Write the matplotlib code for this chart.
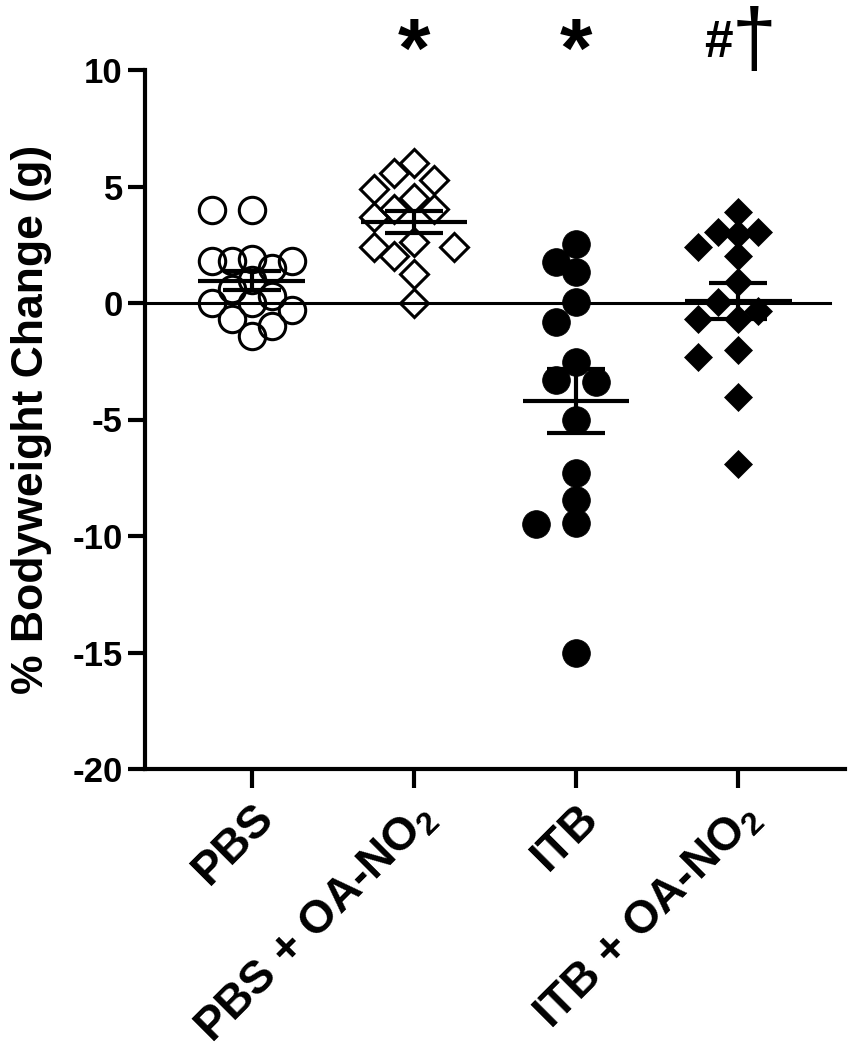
import numpy as np
import matplotlib
matplotlib.use('Agg')
import matplotlib.pyplot as plt

plt.rcParams['font.family'] = ['Liberation Sans', 'DejaVu Sans']
plt.rcParams['font.weight'] = 'bold'
plt.rcParams['mathtext.fontset'] = 'custom'
plt.rcParams['mathtext.rm'] = 'Liberation Sans'
plt.rcParams['mathtext.default'] = 'regular'

# ---- data ----
categories = ['PBS', 'PBS + OA-NO$_2$', 'ITB', 'ITB + OA-NO$_2$']
pbs = [4.0, 4.0, 1.8, 1.8, 1.8, 1.9, 1.5, 1.0, 0.6, 0.3, 0.0, 0.0, -0.3, -0.7, -1.0, -1.4]
pbs_oa = [6.0, 5.6, 5.26, 4.9, 4.5, 4.05, 4.05, 3.7, 2.6, 2.4, 2.4, 2.0, 1.25, 0.0]
itb = [2.54, 1.77, 1.34, 0.04, -0.8, -2.54, -3.3, -3.4, -5.0, -7.3, -8.45, -9.45, -9.5, -15.0]
itb_oa = [3.9, 3.06, 3.06, 2.97, 2.4, 2.0, 0.9, 0.04, -0.34, -0.7, -0.7, -2.0, -2.3, -4.05, -6.9]
annotations = ['', '*', '*', '#\u2020']
y_ticks = [-20, -15, -10, -5, 0, 5, 10]

groups = [pbs, pbs_oa, itb, itb_oa]
markers = ['o', 'D', 'o', 'D']
filled = [False, False, True, True]
msizes = [19, 14.5, 20, 14.5]

W, H = 851, 1050
fig = plt.figure(figsize=(W / 100, H / 100), dpi=100)
ax_l, ax_b, ax_w, ax_h = 145 / W, 1 - 769 / H, 700 / W, 699 / H
ax = fig.add_axes([ax_l, ax_b, ax_w, ax_h])
xlim = (0.34, 4.66)
ylim = (-20, 10)
ax.set_xlim(*xlim)
ax.set_ylim(*ylim)
pxx = ax_w * W / (xlim[1] - xlim[0])
pxy = ax_h * H / (ylim[1] - ylim[0])


def swarm(vals, step_px=20.0, dmin_px=22.0, kmax=2):
    vals = np.asarray(vals, float)
    order = np.argsort(-vals)
    placed = []
    offs = np.zeros(len(vals))
    cand = [0]
    for k in range(1, kmax + 1):
        cand += [-k, k]
    for i in order:
        y = vals[i] * pxy
        best, best_d = None, -1.0
        for k in cand:
            x = k * step_px
            d = min([np.hypot(x - px, y - py) for px, py in placed] or [1e9])
            if d >= dmin_px:
                best = x
                break
            if d > best_d:
                best, best_d = x, d
        placed.append((best, y))
        offs[i] = best / pxx
    return offs


ax.axhline(0, xmin=0, xmax=(830 - 145) / 700, color='black', lw=2.2, zorder=1)

for i, (vals, m, f, ms) in enumerate(zip(groups, markers, filled, msizes)):
    xpos = i + 1
    offs = swarm(vals)
    ax.plot(xpos + offs, vals, linestyle='none', marker=m, markersize=ms,
            markerfacecolor='black' if f else 'none', markeredgecolor='black',
            markeredgewidth=2.2 if not f else 0.5, zorder=3, clip_on=False)
    arr = np.asarray(vals)
    mean = arr.mean()
    sem = arr.std(ddof=1) / np.sqrt(len(arr))
    ax.hlines(mean, xpos - 0.33, xpos + 0.33, color='black', lw=3, zorder=4)
    ax.hlines([mean - sem, mean + sem], xpos - 0.18, xpos + 0.18, color='black', lw=3, zorder=4)
    ax.vlines(xpos, mean - sem, mean + sem, color='black', lw=3, zorder=4)

# annotations
ax.text(2, 10.66, annotations[1], ha='center', va='center', fontsize=60, fontweight='bold', clip_on=False)
ax.text(3, 10.66, annotations[2], ha='center', va='center', fontsize=60, fontweight='bold', clip_on=False)
ax.text(3.97, 11.15, annotations[3][0], ha='right', va='center', fontsize=37, fontweight='bold', clip_on=False)
ax.text(3.96, 11.1, annotations[3][1], ha='left', va='center', fontsize=58, fontweight='normal', clip_on=False)

for s in ['top', 'right']:
    ax.spines[s].set_visible(False)
for s in ['left', 'bottom']:
    ax.spines[s].set_linewidth(3)

ax.set_yticks(y_ticks)
ax.set_yticklabels([str(t) for t in y_ticks], fontsize=25, fontweight='bold')
ax.set_xticks([1, 2, 3, 4])
ax.set_xticklabels(categories, fontsize=33, fontweight='bold', rotation=45,
                   ha='right', rotation_mode='anchor')
ax.tick_params(axis='both', width=3, length=12, direction='out')
ax.tick_params(axis='x', length=14, pad=5)
ax.tick_params(axis='y', pad=4)
ax.set_ylabel('% Bodyweight Change (g)', fontsize=32, fontweight='bold', labelpad=15)

fig.savefig('out.png', dpi=100)
